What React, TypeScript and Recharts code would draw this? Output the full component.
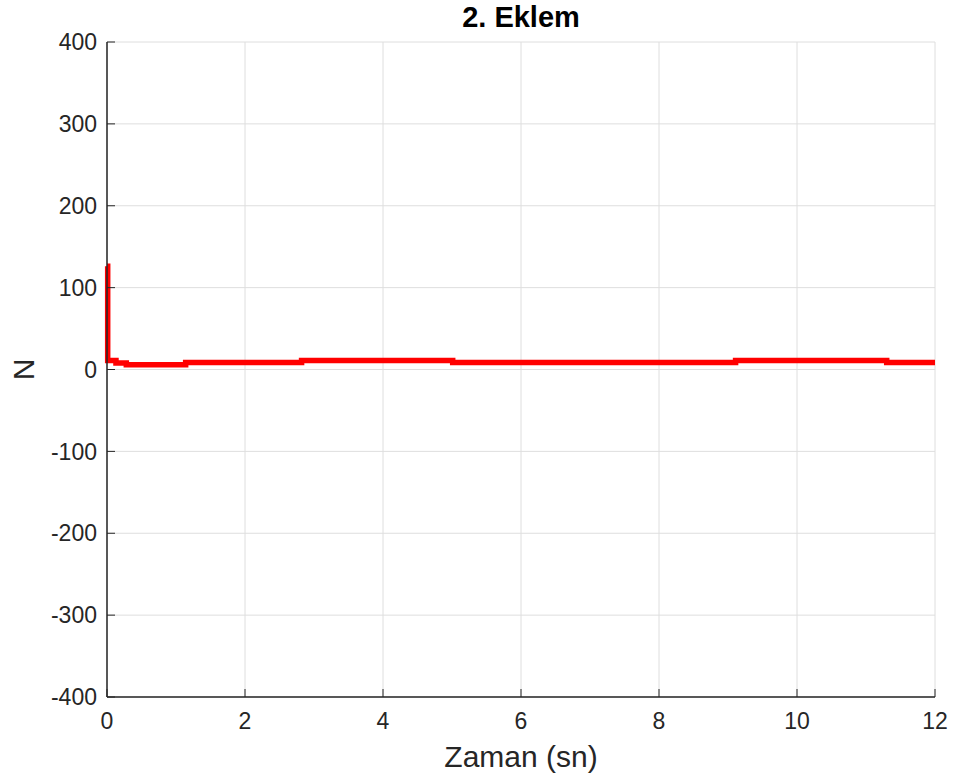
import { LineChart, Line, XAxis, YAxis, CartesianGrid, Label } from 'recharts';

const times = [0, 0.01, 0.13, 0.28, 1.14, 2.82, 5.01, 9.11, 11.3, 12];
const forces = [126, 11, 8, 5.7, 8.5, 11, 8.5, 11, 8.5, 8.5];
const xTicks = [0, 2, 4, 6, 8, 10, 12];
const yTicks = [-400, -300, -200, -100, 0, 100, 200, 300, 400];

const W = 956;
const H = 782;
const LEFT = 107;
const RIGHT = 935;
const TOP = 42;
const BOTTOM = 697;
const FONT = '"Liberation Sans", Arial, Helvetica, sans-serif';
const AXIS = '#262626';

const data = times.map((t, i) => ({ t, v: forces[i] }));

function BottomTick({ x, payload }: any) {
    return (
        <g>
            <line x1={x} x2={x} y1={BOTTOM} y2={BOTTOM - 8} stroke={AXIS} />
            <text x={x} y={BOTTOM + 16} dy="0.71em" textAnchor="middle" fill={AXIS} fontSize={23} fontFamily={FONT}>
                {payload.value}
            </text>
        </g>
    );
}

function LeftTick({ y, payload }: any) {
    return (
        <g>
            <line x1={LEFT} x2={LEFT + 8} y1={y} y2={y} stroke={AXIS} />
            <text x={LEFT - 10} y={y} dy="0.355em" textAnchor="end" fill={AXIS} fontSize={23} fontFamily={FONT}>
                {payload.value}
            </text>
        </g>
    );
}

function TopTick({ x }: any) {
    return <line x1={x} x2={x} y1={TOP} y2={TOP + 8} stroke={AXIS} />;
}

function RightTick({ y }: any) {
    return <line x1={RIGHT - 8} x2={RIGHT} y1={y} y2={y} stroke={AXIS} />;
}

const axisLine = { stroke: AXIS, strokeWidth: 1.5 };

export default function App() {
    return (
        <div style={{ position: 'absolute', left: 0, top: 0, width: W, height: H, background: '#fff' }}>
            <div
                style={{
                    position: 'absolute',
                    left: LEFT,
                    width: RIGHT - LEFT,
                    top: 0,
                    textAlign: 'center',
                    fontFamily: FONT,
                    fontWeight: 'bold',
                    fontSize: 29,
                    lineHeight: '34px',
                    color: '#000',
                }}
            >
                2. Eklem
            </div>
            <LineChart
                width={W}
                height={H}
                data={data}
                margin={{ top: TOP, right: W - RIGHT, left: 0, bottom: 0 }}
            >
                <CartesianGrid xAxisId="x" yAxisId="y" stroke="#dedede" strokeWidth={1} />
                <XAxis
                    xAxisId="x"
                    dataKey="t"
                    type="number"
                    domain={[0, 12]}
                    ticks={xTicks}
                    height={H - BOTTOM}
                    axisLine={axisLine}
                    tickLine={false}
                    tickSize={0}
                    tick={<BottomTick />}
                    interval={0}
                >
                    <Label
                        value="Zaman (sn)"
                        position="insideBottom"
                        offset={15}
                        fill={AXIS}
                        fontSize={30}
                        fontFamily={FONT}
                    />
                </XAxis>
                <XAxis
                    xAxisId="top"
                    orientation="top"
                    dataKey="t"
                    type="number"
                    domain={[0, 12]}
                    ticks={xTicks}
                    height={0}
                    axisLine={axisLine}
                    tickLine={false}
                    tickSize={0}
                    tick={<TopTick />}
                    interval={0}
                />
                <YAxis
                    yAxisId="y"
                    type="number"
                    domain={[-400, 400]}
                    ticks={yTicks}
                    width={LEFT}
                    axisLine={axisLine}
                    tickLine={false}
                    tickSize={0}
                    tick={<LeftTick />}
                    interval={0}
                >
                    <Label
                        value="N"
                        angle={-90}
                        position="insideLeft"
                        offset={23}
                        fill={AXIS}
                        fontSize={30}
                        fontFamily={FONT}
                        style={{ textAnchor: 'middle' }}
                    />
                </YAxis>
                <YAxis
                    yAxisId="right"
                    orientation="right"
                    type="number"
                    domain={[-400, 400]}
                    ticks={yTicks}
                    width={0}
                    axisLine={axisLine}
                    tickLine={false}
                    tickSize={0}
                    tick={<RightTick />}
                    interval={0}
                />
                <Line
                    xAxisId="x"
                    yAxisId="y"
                    type="stepAfter"
                    dataKey="v"
                    stroke="#ff0000"
                    strokeWidth={5.5}
                    dot={false}
                    isAnimationActive={false}
                />
            </LineChart>
        </div>
    );
}
